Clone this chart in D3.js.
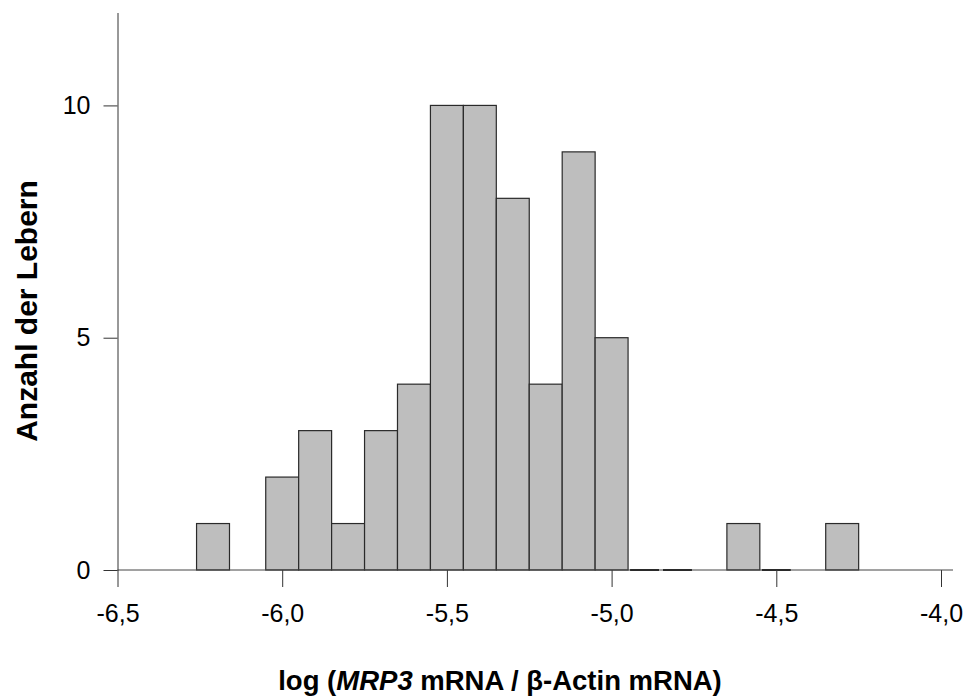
<!DOCTYPE html>
<html>
<head>
<meta charset="utf-8">
<script src="https://cdn.jsdelivr.net/npm/d3@7"></script>
<style>
  body { margin: 0; background: #fff; }
  svg text { font-family: "Liberation Sans", Arial, sans-serif; }
</style>
</head>
<body>
<svg id="chart" width="967" height="697"></svg>
<script>
// data: bin centres (log units) and counts
var binCenters = [-6.21, -6.0, -5.9, -5.8, -5.7, -5.6, -5.5, -5.4, -5.3, -5.2, -5.1, -5.0, -4.9, -4.8, -4.6, -4.5, -4.3];
var counts     = [1,     2,    3,    1,    3,    4,    10,   10,   8,    4,    9,    5,    0,    0,    1,    0,    1];
var binWidth = 0.1;
var xTicks = [-6.5, -6.0, -5.5, -5.0, -4.5, -4.0];
var yTicks = [0, 5, 10];

// constants
var x0 = 117.5, x1 = 941,
    yTop = 12.5, yBase = 570;

var svg = d3.select("#chart");

var x = d3.scaleLinear()
    .domain([-6.5, -4.0])
    .range([x0, x1]);

var y = d3.scaleLinear()
    .domain([0, 12])
    .range([yBase, yTop]);

var data = binCenters.map(function (c, i) { return { c: c, n: counts[i] }; });

// bars
svg.selectAll("rect.bar")
    .data(data.filter(function (d) { return d.n > 0; }))
    .enter()
    .append("rect")
    .attr("class", "bar")
    .attr("x", function (d) { return x(d.c - binWidth / 2); })
    .attr("y", function (d) { return y(d.n); })
    .attr("width", function (d) { return x(d.c + binWidth / 2) - x(d.c - binWidth / 2); })
    .attr("height", function (d) { return y(0) - y(d.n); })
    .attr("fill", "#bebebe")
    .attr("stroke", "#2a2a2a")
    .attr("stroke-width", 1.2);

// empty bins show as a dark line on the base
svg.selectAll("line.empty")
    .data(data.filter(function (d) { return d.n === 0; }))
    .enter()
    .append("line")
    .attr("class", "empty")
    .attr("x1", function (d) { return x(d.c - binWidth / 2) + 2; })
    .attr("x2", function (d) { return x(d.c + binWidth / 2) - 2; })
    .attr("y1", y(0))
    .attr("y2", y(0))
    .attr("stroke", "#111")
    .attr("stroke-width", 2);

// x axis
var xAxis = d3.axisBottom(x)
    .tickValues(xTicks)
    .tickSize(17)
    .tickSizeOuter(0)
    .tickPadding(17)
    .tickFormat(function (d) { return d3.format(".1f")(d).replace("−", "-").replace(".", ","); });

var gx = svg.append("g")
    .attr("transform", "translate(0," + yBase + ")")
    .call(xAxis);
gx.select(".domain").remove();
gx.selectAll("line").attr("stroke", "#333");
gx.selectAll("text").style("font-size", "25px").attr("fill", "#000");

svg.append("line")
    .attr("x1", x0)
    .attr("x2", x1 + 12)
    .attr("y1", yBase)
    .attr("y2", yBase)
    .attr("stroke", "#444")
    .attr("stroke-width", 1);

// y axis
var yAxis = d3.axisLeft(y)
    .tickValues(yTicks)
    .tickSize(14)
    .tickSizeOuter(0)
    .tickPadding(13);

var gy = svg.append("g")
    .attr("transform", "translate(" + x0 + ",0)")
    .call(yAxis);
gy.select(".domain").attr("stroke", "#333");
gy.selectAll("line").attr("stroke", "#333");
gy.selectAll("text").style("font-size", "25px").attr("fill", "#000");

// axis labels
svg.append("text")
    .attr("transform", "translate(37,311) rotate(-90)")
    .attr("text-anchor", "middle")
    .style("font-size", "30px")
    .style("font-weight", "bold")
    .text("Anzahl der Lebern");

var xl = svg.append("text")
    .attr("x", 500)
    .attr("y", 690)
    .attr("text-anchor", "middle")
    .style("font-size", "27.5px")
    .style("font-weight", "bold");
xl.append("tspan").text("log (");
xl.append("tspan").style("font-style", "italic").text("MRP3");
xl.append("tspan").text(" mRNA / β-Actin mRNA)");
</script>
</body>
</html>
